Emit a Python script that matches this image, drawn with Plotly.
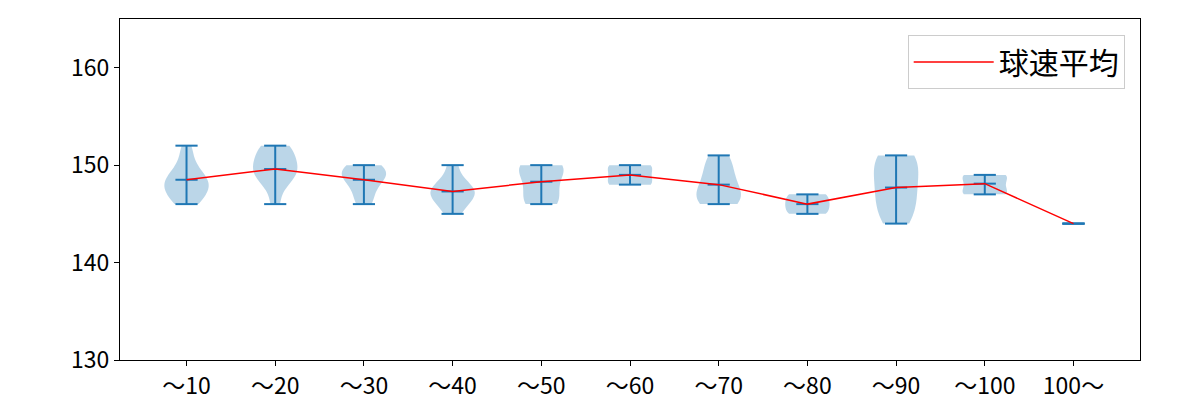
import numpy as np
import plotly.graph_objects as go

# ---- data ----
categories = ["〜10", "〜20", "〜30", "〜40", "〜50", "〜60", "〜70", "〜80", "〜90", "〜100", "100〜"]

speeds_10 = [146, 146, 147, 147, 147, 148, 148, 148, 148, 149, 149, 149, 150, 151, 152]
speeds_20 = [146, 148, 149, 149, 149, 150, 150, 151, 151, 152, 152]
speeds_30 = [146, 147, 148, 149, 149, 149, 150, 150]
speeds_40 = [145, 146, 147, 147, 147, 148, 148, 150]
speeds_50 = [146, 146, 147, 148, 149, 150, 150, 150]
speeds_60 = [148, 148, 149, 150, 150]
speeds_70 = [146, 146, 147, 147, 148, 149, 150, 151]
speeds_80 = [145, 145, 146, 146, 147, 147]
speeds_90 = [144, 145, 146, 147, 148, 149, 150, 151, 151]
speeds_100 = [147, 147, 147, 148, 148, 149, 149, 149]
speeds_100plus = [144]

mean_speed = [148.5, 149.6, 148.5, 147.3, 148.3, 149.0, 148.0, 146.0, 147.7, 148.1, 144.0]

y_ticks = [130, 140, 150, 160]

groups = [speeds_10, speeds_20, speeds_30, speeds_40, speeds_50, speeds_60,
          speeds_70, speeds_80, speeds_90, speeds_100, speeds_100plus]

C0 = "#1f77b4"
FONT = "Noto Sans CJK JP"
positions = list(range(1, len(categories) + 1))

fig = go.Figure()

# violin bodies
for pos, data in zip(positions, groups):
    if len(data) < 2:
        continue
    arr = np.asarray(data, dtype=float)
    bw = arr.std(ddof=1) * len(arr) ** (-0.2)
    fig.add_trace(go.Violin(
        x=[pos] * len(arr), y=arr, width=0.5, spanmode="hard", bandwidth=bw,
        points=False, scalemode="width", side="both",
        fillcolor="rgba(31,119,180,0.3)", line=dict(width=0, color="rgba(0,0,0,0)"),
        box_visible=False, meanline_visible=False,
        showlegend=False, hoverinfo="skip",
    ))

# extrema bars and mean caps
xs, ys = [], []
cap = 0.125
for pos, data, m in zip(positions, groups, mean_speed):
    lo, hi = min(data), max(data)
    xs += [pos, pos, None]
    ys += [lo, hi, None]
    for v in (lo, hi, m):
        xs += [pos - cap, pos + cap, None]
        ys += [v, v, None]
fig.add_trace(go.Scatter(x=xs, y=ys, mode="lines", line=dict(color=C0, width=2),
                         showlegend=False, hoverinfo="skip"))

# mean line
fig.add_trace(go.Scatter(x=positions, y=mean_speed, mode="lines", name="球速平均",
                         line=dict(color="red", width=1.5)))

axis_common = dict(showline=True, mirror=True, linecolor="black", linewidth=1,
                   ticks="outside", ticklen=5, tickcolor="black", showgrid=False,
                   zeroline=False, automargin=False,
                   tickfont=dict(family=FONT, size=23, color="black"))

fig.update_layout(
    width=1200, height=400,
    margin=dict(l=120, r=60, t=19, b=40),
    plot_bgcolor="white", paper_bgcolor="white",
    violinmode="overlay",
    font=dict(family=FONT, color="black"),
    xaxis=dict(range=[0.25, 11.75], tickvals=positions, ticktext=categories, **axis_common),
    yaxis=dict(range=[130, 165], tickvals=y_ticks, **axis_common),
    legend=dict(x=0.985, y=0.953, xanchor="right", yanchor="top",
                bgcolor="white", bordercolor="#cccccc", borderwidth=1,
                font=dict(family=FONT, size=30, color="black"), itemwidth=80),
)

fig.write_html("out.html")
